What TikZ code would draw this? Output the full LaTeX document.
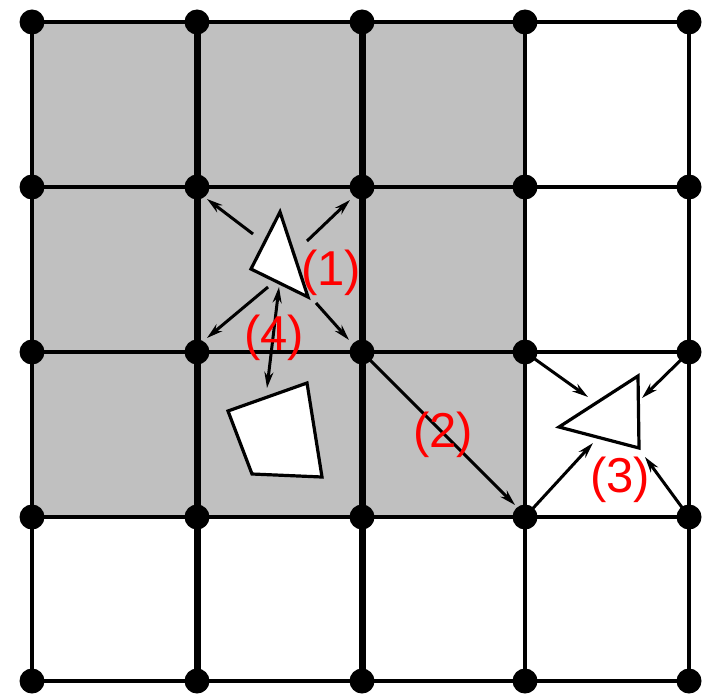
\documentclass[tikz,border=0pt]{standalone}
\usepackage{fontspec}
\setmainfont{Liberation Sans}
\usetikzlibrary{arrows.meta}
\definecolor{cellgray}{RGB}{192,192,192}
\definecolor{lblred}{RGB}{255,0,0}
\begin{document}
\begin{tikzpicture}[x=1pt,y=-1pt,
  dot/.style={circle,fill=black,inner sep=0pt,minimum size=25pt},
  thinline/.style={line width=3.5pt},
  thickline/.style={line width=7pt},
  arr/.style={line width=3pt,-{Stealth[length=16pt,width=9pt]}},
  darr/.style={line width=3pt,{Stealth[length=16pt,width=9pt]}-{Stealth[length=16pt,width=9pt]}},
  shapeline/.style={draw=black,fill=white,line width=3.2pt,line join=miter},
  lbl/.style={text=lblred,font=\fontsize{49}{49}\selectfont,inner sep=0pt,anchor=base}]
\useasboundingbox (0,0) rectangle (708,695);
\fill[cellgray] (32,22) rectangle (525,517);
\foreach \i/\x in {0/32,1/197,2/362,3/525,4/689}{
  \foreach \j/\y in {0/22,1/187,2/352,3/517,4/681}{
    \coordinate (g\i\j) at (\x,\y);
  }
}
\foreach \j in {0,...,4}{\draw[thinline] (g0\j) -- (g4\j);}
\foreach \i in {0,3,4}{\draw[thinline] (g\i0) -- (g\i4);}
\foreach \i in {1,2}{\draw[thickline] (g\i0) -- (g\i4);}
\foreach \i in {0,...,4}{
  \foreach \j in {0,...,4}{
    \node[dot] (d\i\j) at (g\i\j) {};
  }
}
% shapes
\draw[shapeline] (280,212) -- (251,269) -- (308,297) -- cycle;
\draw[shapeline] (228,411) -- (307,383) -- (322,477) -- (252,474) -- cycle;
\draw[shapeline] (638,376) -- (559,427) -- (639,448) -- cycle;
% arrow endpoints
\coordinate (t1ul) at (253,234);
\coordinate (e1ul) at (207,199);
\coordinate (t1ur) at (307,241);
\coordinate (e1ur) at (350,200);
\coordinate (t1ll) at (268,287);
\coordinate (e1ll) at (207,338);
\coordinate (t1lr) at (316,303);
\coordinate (e1lr) at (349,340);
\coordinate (t4a) at (279,287);
\coordinate (t4b) at (267,388);
\coordinate (e2) at (515,505);
\coordinate (e3ul) at (588,397);
\coordinate (e3ur) at (642,398);
\coordinate (e3ll) at (593,443);
\coordinate (e3lr) at (645,457);
% arrows
\draw[arr] (t1ul) -- (e1ul);
\draw[arr] (t1ur) -- (e1ur);
\draw[arr] (t1ll) -- (e1ll);
\draw[arr] (t1lr) -- (e1lr);
\draw[darr] (t4a) -- (t4b);
\draw[arr] (d22.center) -- (e2);
\draw[arr] (d32.center) -- (e3ul);
\draw[arr] (d42.center) -- (e3ur);
\draw[arr] (d33.center) -- (e3ll);
\draw[arr] (d43.center) -- (e3lr);
% labels
\node[lbl] (l1) at (331,285) {(1)};
\node[lbl] (l4) at (274,350) {(4)};
\node[lbl] (l2) at (443,447) {(2)};
\node[lbl] (l3) at (620,492) {(3)};
\end{tikzpicture}
\end{document}
